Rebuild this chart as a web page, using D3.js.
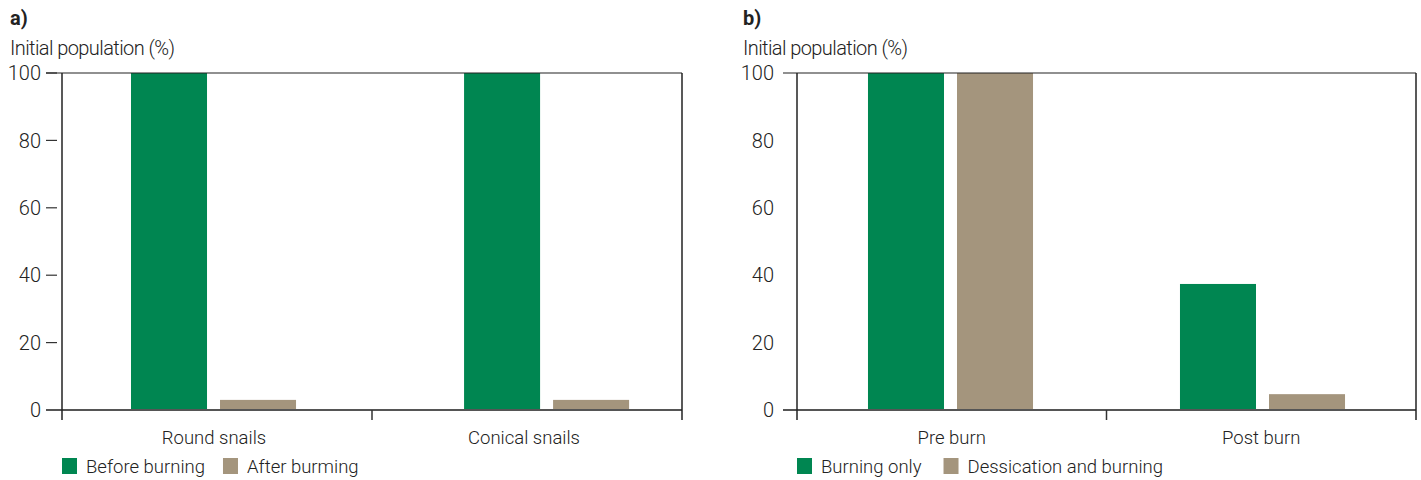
<!DOCTYPE html>
<html>
<head>
<meta charset="utf-8">
<script src="https://cdn.jsdelivr.net/npm/d3@7"></script>
<style>
  html, body { margin: 0; padding: 0; background: #fff; }
  svg text { font-family: Roboto, "Liberation Sans", sans-serif; font-weight: 300; fill: #222; }
</style>
</head>
<body>
<svg id="chart" width="1421" height="480"></svg>
<script>
// ---- Data ----
const panelALabel = "a)";
const panelBLabel = "b)";
const yAxisTitle = "Initial population (%)";
const yTicks = [0, 20, 40, 60, 80, 100];

const categoriesA = ["Round snails", "Conical snails"];
const seriesA = ["Before burning", "After burming"];
const beforeBurning = [100, 100];
const afterBurning = [3, 3];

const categoriesB = ["Pre burn", "Post burn"];
const seriesB = ["Burning only", "Dessication and burning"];
const burningOnly = [100, 37.4];
const dessicationBurning = [100, 4.7];

const colors = ["#008651", "#A4957D"];

// ---- Drawing ----
const svg = d3.select("#chart");
const yTop = 73, yBot = 410;
const FS = 20, FS2 = 18.5;
const y = d3.scaleLinear().domain([0, 100]).range([yBot, yTop]);

function drawPanel(opts) {
  const g = svg.append("g");
  const { x0, x1, label, cats, series, values, align, pInner, pOuter, dashTicks, labelRight, lineLeft } = opts;

  // titles
  g.append("text").attr("x", opts.titleX).attr("y", 25)
    .attr("font-size", FS).style("font-weight", "bold").text(label);
  g.append("text").attr("x", opts.titleX).attr("y", 55)
    .attr("font-size", FS).attr("textLength", 165).attr("lengthAdjust", "spacing").text(yAxisTitle);

  const xb = d3.scaleBand().domain(cats).range([x0, x1])
    .paddingInner(pInner).paddingOuter(pOuter).align(align);
  const xs = d3.scaleBand().domain(series).range([0, xb.bandwidth()]).paddingInner(0.146);
  const xSep = d3.scaleLinear().domain([0, cats.length]).range([x0, x1]);

  // bars
  cats.forEach((c, i) => {
    series.forEach((s, j) => {
      const v = values[j][i];
      g.append("rect")
        .attr("x", xb(c) + xs(s))
        .attr("y", y(v))
        .attr("width", xs.bandwidth())
        .attr("height", y(0) - y(v))
        .attr("fill", colors[j]);
    });
  });

  // y tick labels
  yTicks.forEach(t => {
    g.append("text").attr("x", labelRight).attr("y", y(t))
      .attr("dy", "0.36em").attr("text-anchor", "end")
      .attr("font-size", FS).text(t);
    if (dashTicks) {
      g.append("line").attr("x1", x0 - 16).attr("x2", x0 - 5)
        .attr("y1", y(t)).attr("y2", y(t))
        .attr("stroke", "#333").attr("stroke-width", 1.2);
    }
  });

  // frame: top line
  g.append("line").attr("x1", lineLeft).attr("x2", x1)
    .attr("y1", y(100)).attr("y2", y(100))
    .attr("stroke", "#222").attr("stroke-width", 1.2);
  // bottom line
  g.append("line").attr("x1", lineLeft).attr("x2", x1)
    .attr("y1", y(0)).attr("y2", y(0))
    .attr("stroke", "#555").attr("stroke-width", 2);
  // verticals
  [x0, x1].forEach(xx => {
    g.append("line").attr("x1", xx).attr("x2", xx)
      .attr("y1", y(100)).attr("y2", y(0) + 10)
      .attr("stroke", "#222").attr("stroke-width", 1.5);
  });
  // middle separator tick
  for (let k = 1; k < cats.length; k++) {
    g.append("line").attr("x1", xSep(k)).attr("x2", xSep(k))
      .attr("y1", y(0)).attr("y2", y(0) + 10)
      .attr("stroke", "#333").attr("stroke-width", 1.5);
  }
  // category labels
  cats.forEach((c, i) => {
    g.append("text").attr("x", (xSep(i) + xSep(i + 1)) / 2 + opts.catShift)
      .attr("y", 444).attr("text-anchor", "middle")
      .attr("font-size", FS2).text(c);
  });

  // legend
  let lx = x0;
  series.forEach((s, j) => {
    g.append("rect").attr("x", lx).attr("y", 458).attr("width", 15).attr("height", 16)
      .attr("fill", colors[j]);
    const t = g.append("text").attr("x", lx + 24).attr("y", 473)
      .attr("font-size", FS2).text(s);
    lx += 24 + t.node().getComputedTextLength() + opts.legendGap;
  });
}

drawPanel({
  x0: 62, x1: 682, titleX: 10, label: panelALabel,
  cats: categoriesA, series: seriesA, values: [beforeBurning, afterBurning],
  pInner: 0.5045, pOuter: 0.183, align: 0.566,
  dashTicks: true, labelRight: 41, lineLeft: 46, catShift: -3, legendGap: 18
});

drawPanel({
  x0: 797, x1: 1416, titleX: 743, label: panelBLabel,
  cats: categoriesB, series: seriesB, values: [burningOnly, dessicationBurning],
  pInner: 0.471, pOuter: 0.2275, align: 0.5,
  dashTicks: false, labelRight: 774, lineLeft: 783, catShift: 0, legendGap: 22
});
</script>
</body>
</html>
